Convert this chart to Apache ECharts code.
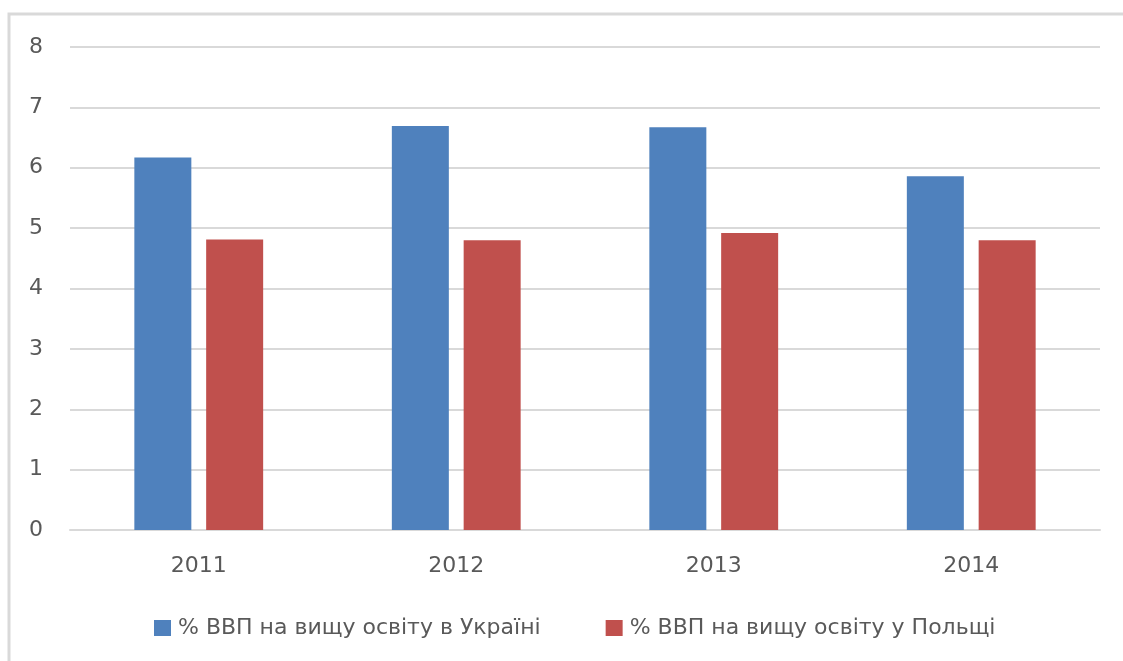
<!DOCTYPE html>
<html>
<head>
<meta charset="utf-8">
<script src="https://cdn.jsdelivr.net/npm/echarts@6/dist/echarts.min.js"></script>
<style>
html,body{margin:0;padding:0;background:#fff;}
#chart{width:1123px;height:661px;}
</style>
</head>
<body>
<div id="chart"></div>
<script>
const categories = ['2011', '2012', '2013', '2014'];
const seriesNames = ['% ВВП на вищу освіту в Україні', '% ВВП на вищу освіту у Польщі'];
const ukraineValues = [6.17, 6.69, 6.67, 5.86];
const polandValues = [4.81, 4.80, 4.92, 4.80];
const yTicks = { min: 0, max: 8, interval: 1 };

const chart = echarts.init(document.getElementById('chart'), null, { renderer: 'canvas' });
const font = '"DejaVu Sans", "Liberation Sans", Arial, sans-serif';
chart.setOption({
  backgroundColor: '#ffffff',
  animation: false,
  graphic: [{
    type: 'polyline',
    shape: { points: [[9, 661], [9, 14], [1123, 14]] },
    style: { stroke: '#d9d9d9', lineWidth: 3, fill: null },
    silent: true
  }],
  grid: { left: 70, right: 23, top: 47, bottom: 131, containLabel: false },
  legend: {
    left: 154,
    top: 617,
    padding: 0,
    itemWidth: 17,
    itemHeight: 16,
    itemGap: 65,
    icon: 'rect',
    textStyle: { color: '#595959', fontSize: 22, fontFamily: font, padding: [0, 0, 0, 2] },
    data: seriesNames
  },
  xAxis: {
    type: 'category',
    data: categories,
    axisLine: { show: true, lineStyle: { color: '#d9d9d9', width: 2 } },
    axisTick: { show: false },
    axisLabel: { color: '#595959', fontSize: 22, fontFamily: font, margin: 25 }
  },
  yAxis: {
    type: 'value',
    min: yTicks.min,
    max: yTicks.max,
    interval: yTicks.interval,
    axisLine: { show: false },
    axisTick: { show: false },
    splitLine: { lineStyle: { color: '#d9d9d9', width: 2 } },
    axisLabel: { color: '#595959', fontSize: 22, fontFamily: font, margin: 27 }
  },
  series: [
    {
      name: seriesNames[0],
      type: 'bar',
      data: ukraineValues,
      barWidth: 57,
      barGap: '26%',
      itemStyle: { color: '#4F81BD' }
    },
    {
      name: seriesNames[1],
      type: 'bar',
      data: polandValues,
      barWidth: 57,
      barGap: '26%',
      itemStyle: { color: '#C0504D' }
    }
  ]
});
</script>
</body>
</html>
